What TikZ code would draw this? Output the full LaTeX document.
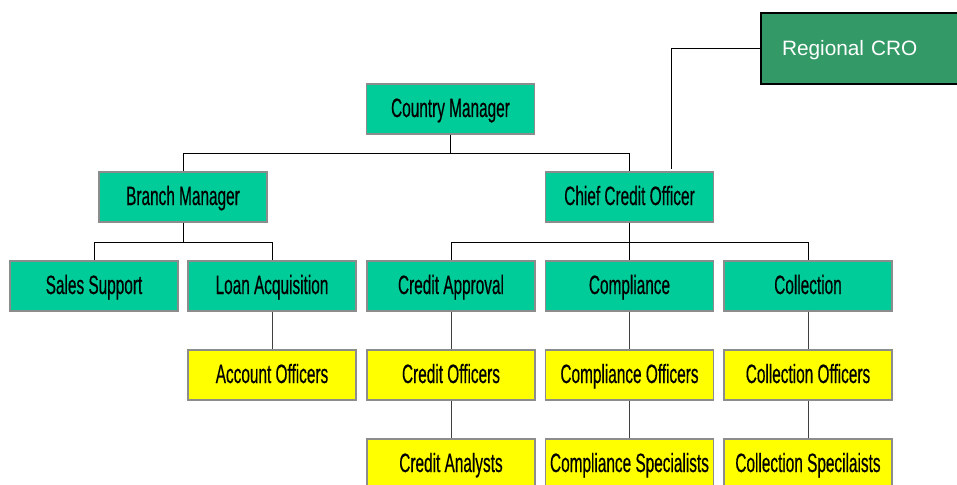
\documentclass[tikz,border=0pt]{standalone}
\usepackage{fontspec}
\newfontfamily\narrowfont[FakeStretch=0.58,FakeBold=0.4]{Liberation Sans}
\newfontfamily\crofont{Liberation Sans}
\definecolor{boxgreen}{HTML}{00CC99}
\definecolor{croGreen}{HTML}{339966}
\definecolor{boxyellow}{HTML}{FFFF00}
\definecolor{boxborder}{HTML}{8C8C8C}
\tikzset{
  orgbox/.style={draw=boxborder, line width=1.2pt, minimum width=168pt, minimum height=50pt,
    inner sep=0pt, font=\narrowfont\fontsize{26.5}{28}\selectfont, text height=19pt, text depth=3pt},
  greenbox/.style={orgbox, fill=boxgreen},
  yellowbox/.style={orgbox, fill=boxyellow},
  crobox/.style={draw=black, line width=2pt, fill=croGreen, text=white, anchor=west,
    minimum height=71pt, inner xsep=21pt, text width=200pt, align=left,
    font=\crofont\fontsize{20.8}{22}\selectfont, text height=15pt, text depth=1pt},
  link/.style={draw=black, line width=0.9pt},
  stub/.style={draw=black!75, line width=0.9pt}
}
\begin{document}
\begin{tikzpicture}[x=1pt, y=-1pt]
\useasboundingbox (0,0) rectangle (957,484);
\fill[white] (0,0) rectangle (957,484);
% nodes
\node[greenbox] (cm) at (450.5,109) {Country Manager};
\node[crobox] (cro) at (760,48.5) {Regional CRO};
\node[greenbox] (bm) at (183,197) {Branch Manager};
\node[greenbox] (cco) at (629.5,197) {Chief Credit Officer};
\node[greenbox] (ss) at (94,286) {Sales Support};
\node[greenbox] (la) at (272,286) {Loan Acquisition};
\node[greenbox] (ca) at (451,286) {Credit Approval};
\node[greenbox] (comp) at (629.5,286) {Compliance};
\node[greenbox] (coll) at (808,286) {Collection};
\node[yellowbox] (ao) at (272,375) {Account Officers};
\node[yellowbox] (co) at (451,375) {Credit Officers};
\node[yellowbox] (compo) at (629.5,375) {Compliance Officers};
\node[yellowbox] (collo) at (808,375) {Collection Officers};
\node[yellowbox] (can) at (451,464) {Credit Analysts};
\node[yellowbox] (comps) at (629.5,464) {Compliance Specialists};
\node[yellowbox] (colls) at (808,464) {Collection Specilaists};
% connectors
\draw[link] (cm.south) -- ++(0,19) -| (bm.north);
\draw[link] (cm.south) ++(0,19) -| (cco.north);
\draw[link] (cro.west) -| ([xshift=41.5pt,yshift=2pt]cco.north);
\draw[link] (bm.south) -- ++(0,19.5) -| (ss.north);
\draw[link] (bm.south) ++(0,19.5) -| (la.north);
\draw[link] (cco.south) -- ++(0,19.5) -| (ca.north);
\draw[link] (cco.south) -- (comp.north);
\draw[link] (cco.south) ++(0,19.5) -| (coll.north);
\draw[stub] (la.south) -- (ao.north);
\draw[stub] (ca.south) -- (co.north);
\draw[stub] (comp.south) -- (compo.north);
\draw[stub] (coll.south) -- (collo.north);
\draw[stub] (co.south) -- (can.north);
\draw[stub] (compo.south) -- (comps.north);
\draw[stub] (collo.south) -- (colls.north);
\end{tikzpicture}
\end{document}
